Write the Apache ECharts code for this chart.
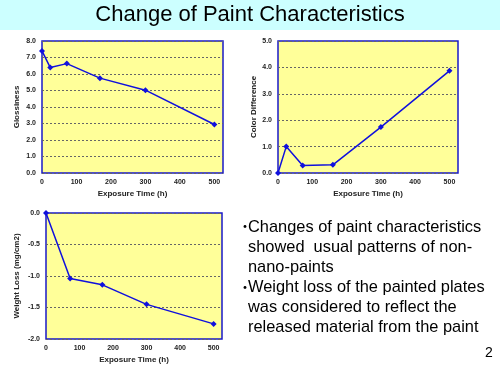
<!DOCTYPE html>
<html><head><meta charset="utf-8">
<script src="https://cdn.jsdelivr.net/npm/echarts@6/dist/echarts.min.js"></script>
<style>html,body{margin:0;padding:0;background:#fff}#c{width:500px;height:375px}</style>
</head><body><div id="c"></div>
<script>
const glossTime = [0, 24, 72, 168, 300, 500];
const glossiness = [7.40, 6.39, 6.63, 5.75, 5.02, 2.94];
const colorTime = [0, 24, 72, 160, 300, 500];
const colorDifference = [0.0, 1.0, 0.28, 0.31, 1.74, 3.87];
const weightTime = [0, 72, 168, 300, 500];
const weightLoss = [0.0, -1.04, -1.14, -1.45, -1.76];
const xTicks = [0, 100, 200, 300, 400, 500];
const titleText = 'Change of Paint Characteristics';
const bulletLines = [
  ['・', 'Changes of paint characteristics'],
  ['', 'showed  usual patterns of non-'],
  ['', 'nano-paints'],
  ['・', 'Weight loss of the painted plates'],
  ['', 'was considered to reflect the'],
  ['', 'released material from the paint']
];
const pageNo = '2';

const BLUE = '#1010dd';
const FONT = 'Liberation Sans, Arial, sans-serif';
const lbl = {fontSize: 7, fontWeight: 'bold', color: '#222', fontFamily: FONT};

function xAxis(gi){
  return {gridIndex: gi, type: 'value', min: 0, max: 525, interval: 100,
    name: 'Exposure Time (h)', nameLocation: 'middle', nameGap: 17,
    nameTextStyle: {fontSize: 8, fontWeight: 'bold', color: '#222', fontFamily: FONT},
    axisLine: {show: false}, axisTick: {show: false}, splitLine: {show: false},
    axisLabel: Object.assign({margin: 6, showMaxLabel: false,
      formatter: v => xTicks.includes(v) ? String(v) : ''}, lbl)};
}
function yAxis(gi, min, max, interval, name, gap){
  return {gridIndex: gi, type: 'value', min, max, interval,
    name, nameLocation: 'middle', nameGap: gap, nameRotate: 90,
    nameTextStyle: {fontSize: 8, fontWeight: 'bold', color: '#222', fontFamily: FONT},
    axisLine: {show: false}, axisTick: {show: false},
    splitLine: {show: true, lineStyle: {color: '#666', type: [2, 2], width: 1}},
    axisLabel: Object.assign({margin: 6, formatter: v => v.toFixed(1)}, lbl)};
}
function ser(gi, xs, ys){
  return {type: 'line', xAxisIndex: gi, yAxisIndex: gi,
    data: xs.map((x, i) => [x, ys[i]]),
    symbol: 'diamond', symbolSize: 6, showSymbol: true,
    lineStyle: {color: BLUE, width: 1.5}, itemStyle: {color: BLUE}, animation: false};
}
const gridBase = {show: true, backgroundColor: '#ffff99', borderColor: '#1a1ac8', borderWidth: 1.5};

const graphics = [
  {type: 'rect', left: 0, top: 0, shape: {width: 500, height: 30}, style: {fill: '#ccffff'}, z: -10},
  {type: 'text', left: 'center', top: 4, style: {text: titleText, fontSize: 22, fill: '#000', fontFamily: FONT}}
];
bulletLines.forEach((t, i) => {
  const top = 219 + i * 20.1;
  if (t[0]) graphics.push({type: 'text', left: 238, top: top,
    style: {text: t[0], fontSize: 14, fill: '#000', fontFamily: 'Noto Sans CJK JP, sans-serif'}});
  graphics.push({type: 'text', left: 248, top: top,
    style: {text: t[1], fontSize: 16.4, fill: '#000', fontFamily: FONT}});
});
graphics.push({type: 'text', left: 485, top: 346, style: {text: pageNo, fontSize: 14, fill: '#000', fontFamily: FONT}});

const chart = echarts.init(document.getElementById('c'), null, {renderer: 'canvas'});
chart.setOption({
  animation: false,
  grid: [
    Object.assign({left: 42, top: 41, width: 181, height: 132}, gridBase),
    Object.assign({left: 278, top: 41, width: 180, height: 132}, gridBase),
    Object.assign({left: 46, top: 213, width: 176, height: 126}, gridBase)
  ],
  xAxis: [xAxis(0), xAxis(1), xAxis(2)],
  yAxis: [
    yAxis(0, 0, 8, 1, 'Glossiness', 21),
    yAxis(1, 0, 5, 1, 'Color Difference', 20),
    yAxis(2, -2, 0, 0.5, 'Weight Loss (mg/cm2)', 25)
  ],
  series: [ser(0, glossTime, glossiness), ser(1, colorTime, colorDifference), ser(2, weightTime, weightLoss)],
  graphic: graphics
});
</script></body></html>
